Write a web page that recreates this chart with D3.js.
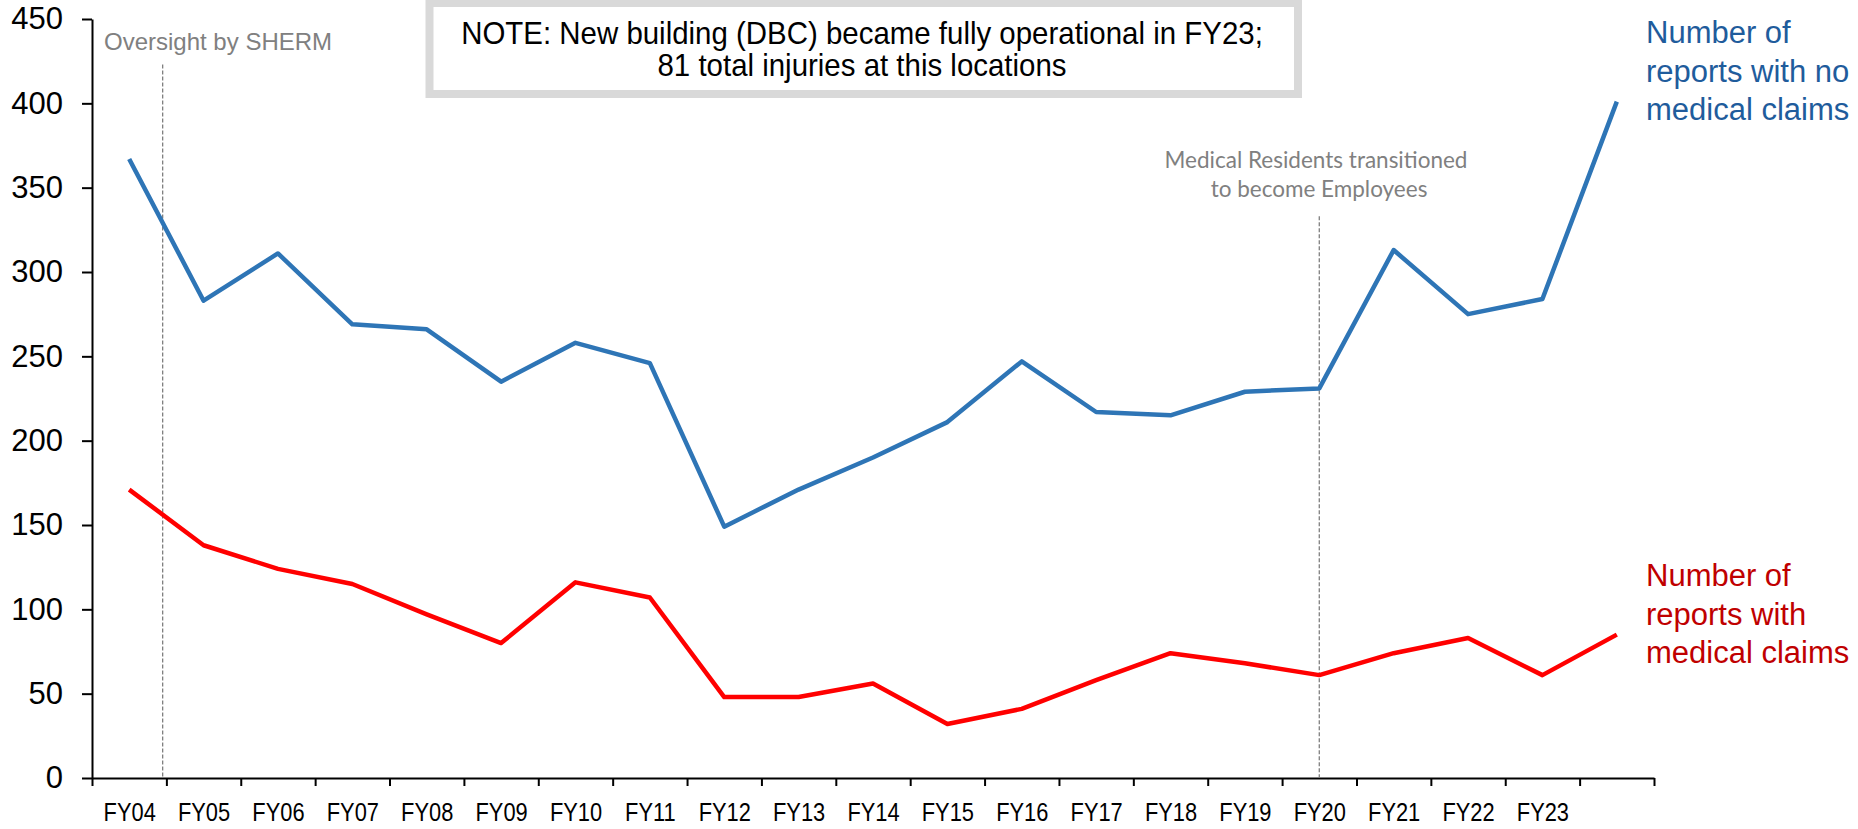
<!DOCTYPE html>
<html>
<head>
<meta charset="utf-8">
<script src="https://cdn.jsdelivr.net/npm/d3@7"></script>
<style>
    body { margin: 0; background: #fff; }
    svg { display: block; }
</style>
</head>
<body>
<svg class="chart"></svg>
<script>
// fiscal years on the axis (last point has no label)
const categories = [`FY04`, `FY05`, `FY06`, `FY07`, `FY08`, `FY09`, `FY10`, `FY11`, `FY12`, `FY13`,
    `FY14`, `FY15`, `FY16`, `FY17`, `FY18`, `FY19`, `FY20`, `FY21`, `FY22`, `FY23`, ``];
const noClaims = [367, 283, 311, 269, 266, 235, 258, 246, 149, 171, 190, 211, 247, 217, 215, 229, 231, 313, 275, 284, 401];
const withClaims = [171, 138, 124, 115, 97, 80, 116, 107, 48, 48, 56, 32, 41, 58, 74, 68, 61, 74, 83, 61, 85];
const yTicks = [0, 50, 100, 150, 200, 250, 300, 350, 400, 450];
// dashed event markers: position in category units, top in data units
const markerPos = [0.45, 16];
const markerTop = [423, 333];

const width = 1858;
const height = 829;
const plotLeft = 92, plotRight = 1654, plotTop = 19, plotBottom = 778;

const arial = `"Liberation Sans", Arial, sans-serif`;

const blue = `#2e75b6`;
const red = `#ff0000`;

const chart = d3.select(`.chart`)
    .attr(`width`, width)
    .attr(`height`, height);

const x = d3.scaleLinear()
    .domain([-0.5, categories.length - 0.5])
    .range([plotLeft, plotRight]);

const y = d3.scaleLinear()
    .domain([0, 450])
    .range([plotBottom, plotTop]);

// axes
const xAxis = d3.axisBottom(x)
    .tickValues(d3.range(categories.length + 1).map(i => i - 0.5))
    .tickSize(8)
    .tickSizeOuter(0)
    .tickFormat(``);

const xLabels = d3.axisBottom(x)
    .tickValues(d3.range(categories.length))
    .tickSize(0)
    .tickPadding(25)
    .tickFormat(i => categories[i]);

const yAxis = d3.axisLeft(y)
    .tickValues(yTicks)
    .tickSize(10)
    .tickSizeOuter(0)
    .tickPadding(19);

const gx = chart.append(`g`)
    .attr(`transform`, `translate(0, ${plotBottom})`)
    .call(xAxis);

const gxl = chart.append(`g`)
    .attr(`transform`, `translate(0, ${plotBottom})`)
    .call(xLabels);
gxl.select(`.domain`).remove();
// condensed look of the original labels
gxl.selectAll(`text`)
    .attr(`font-family`, arial)
    .attr(`font-size`, `26px`)
    .attr(`fill`, `#000`)
    .attr(`transform`, `scale(0.84, 1)`);

const gy = chart.append(`g`)
    .attr(`transform`, `translate(${plotLeft}, 0)`)
    .call(yAxis);
gy.selectAll(`text`)
    .attr(`font-family`, arial)
    .attr(`font-size`, `31px`)
    .attr(`fill`, `#000`);

chart.selectAll(`.domain, .tick line`)
    .attr(`stroke`, `#000`)
    .attr(`stroke-width`, 2);

// dashed event markers
chart.selectAll(`.marker`)
    .data(markerPos)
    .enter().append(`line`)
        .attr(`class`, `marker`)
        .attr(`x1`, d => x(d))
        .attr(`x2`, d => x(d))
        .attr(`y1`, (d, i) => y(markerTop[i]))
        .attr(`y2`, plotBottom - 1)
        .attr(`stroke`, `#7f7f7f`)
        .attr(`stroke-width`, 1.3)
        .attr(`stroke-dasharray`, `4,2`);

// series lines
const line = d3.line()
    .x((d, i) => x(i))
    .y(d => y(d));

chart.append(`path`)
    .datum(noClaims)
    .attr(`d`, line)
    .attr(`fill`, `none`)
    .attr(`stroke`, blue)
    .attr(`stroke-width`, 4.5)
    .attr(`stroke-linejoin`, `round`);

chart.append(`path`)
    .datum(withClaims)
    .attr(`d`, line)
    .attr(`fill`, `none`)
    .attr(`stroke`, red)
    .attr(`stroke-width`, 4.5)
    .attr(`stroke-linejoin`, `round`);

// annotations
chart.append(`text`)
    .attr(`x`, 104)
    .attr(`y`, 50)
    .attr(`font-family`, arial)
    .attr(`font-size`, `24px`)
    .attr(`fill`, `#808080`)
    .text(`Oversight by SHERM`);

chart.append(`rect`)
    .attr(`x`, 429.5)
    .attr(`y`, 3)
    .attr(`width`, 868.5)
    .attr(`height`, 91)
    .attr(`fill`, `#fff`)
    .attr(`stroke`, `#d9d9d9`)
    .attr(`stroke-width`, 8);

const note = chart.append(`g`)
    .attr(`transform`, `translate(862, 0) scale(0.95, 1)`)
    .append(`text`)
    .attr(`font-family`, arial)
    .attr(`font-size`, `31px`)
    .attr(`fill`, `#000`)
    .attr(`text-anchor`, `middle`);
note.append(`tspan`).attr(`x`, 0).attr(`y`, 44)
    .text(`NOTE: New building (DBC) became fully operational in FY23;`);
note.append(`tspan`).attr(`x`, 0).attr(`y`, 76)
    .text(`81 total injuries at this locations`);

const resid = chart.append(`text`)
    .attr(`font-family`, `Lato, "Open Sans", sans-serif`)
    .attr(`font-size`, `22.5px`)
    .attr(`fill`, `#808080`)
    .attr(`text-anchor`, `middle`);
resid.append(`tspan`).attr(`x`, 1316).attr(`y`, 168).text(`Medical Residents transitioned`);
resid.append(`tspan`).attr(`x`, 1319).attr(`y`, 197).text(`to become Employees`);

const seriesLabel = (lines, color, y0) => {
    const t = chart.append(`text`)
        .attr(`font-family`, arial)
        .attr(`font-size`, `31px`)
        .attr(`fill`, color);
    lines.forEach((s, i) => {
        t.append(`tspan`).attr(`x`, 1646).attr(`y`, y0 + i * 38.5).text(s);
    });
};
seriesLabel([`Number of`, `reports with no`, `medical claims`], `#1f5c9c`, 43);
seriesLabel([`Number of`, `reports with`, `medical claims`], `#c00000`, 586);
</script>
</body>
</html>
